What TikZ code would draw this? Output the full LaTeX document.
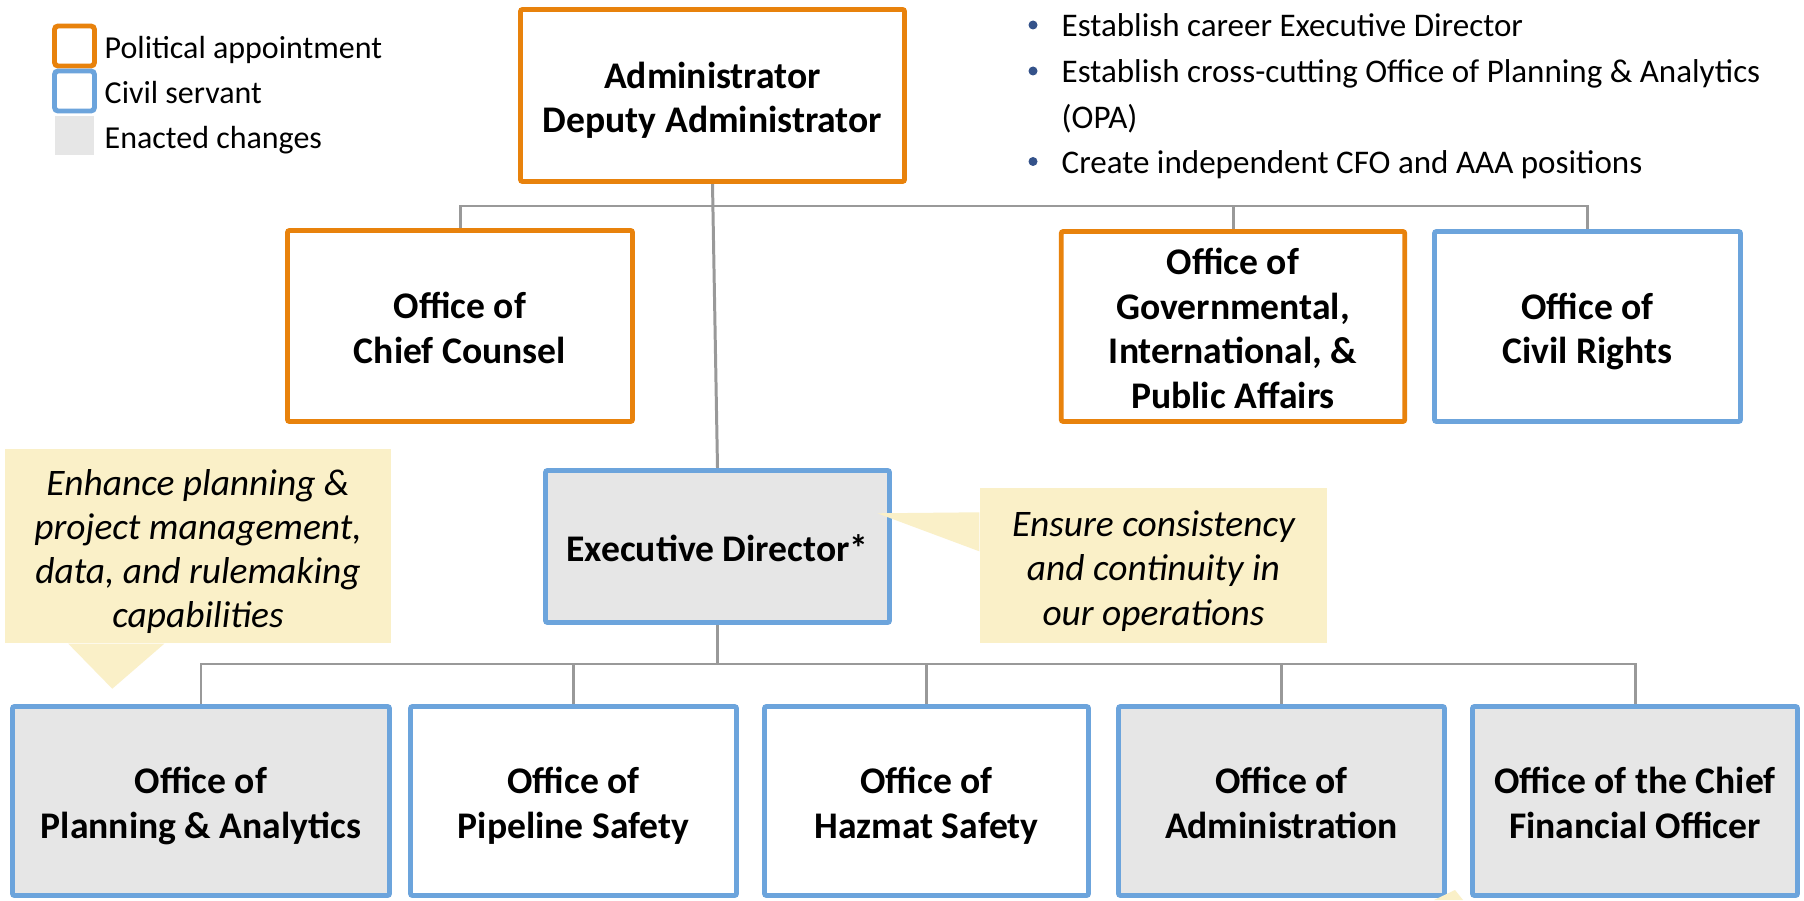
\documentclass[tikz,border=0pt]{standalone}
\usepackage{fontspec}
\setmainfont{Carlito}
\usetikzlibrary{calc,backgrounds}
\definecolor{polorange}{HTML}{E8820C}
\definecolor{civblue}{HTML}{6CA4DC}
\definecolor{enactgray}{HTML}{E6E6E6}
\definecolor{conngray}{HTML}{999999}
\definecolor{noteyellow}{HTML}{FAF0C8}
\definecolor{bulletblue}{HTML}{34528A}

\begin{document}
\begin{tikzpicture}[
  orgbox/.style={line width=1.4pt,rounded corners=0.6pt,align=center,inner sep=0pt,
    font=\fontsize{10.7}{12.7}\selectfont\bfseries},
  polbox/.style={orgbox,draw=polorange,fill=white},
  civbox/.style={orgbox,draw=civblue,fill=white},
  enacted/.style={fill=enactgray},
  tall/.style={text depth=0pt,text height=#1},
  conn/.style={draw=conngray,line width=0.85pt},
  note/.style={fill=noteyellow,align=center,inner sep=0pt,
    font=\fontsize{10.65}{12.6}\selectfont\itshape},
  legtxt/.style={anchor=base west,inner sep=0pt,font=\fontsize{9.1}{11}\selectfont},
  bultxt/.style={anchor=base west,inner sep=0pt,font=\fontsize{9.4}{13}\selectfont}]

\useasboundingbox (0,0) rectangle (18.04,9);
\clip (0,0) rectangle (18.04,9);

% legend
\node[draw=polorange,line width=1.4pt,rounded corners=1pt,minimum size=0.40cm,inner sep=0pt] (legPol) at (0.745,8.54) {};
\node[draw=civblue,line width=1.4pt,rounded corners=1pt,minimum size=0.40cm,inner sep=0pt] (legCiv) at (0.745,8.09) {};
\node[fill=enactgray,minimum size=0.39cm,inner sep=0pt] (legEna) at (0.745,7.645) {};
\node[legtxt] (legPolTxt) at (1.04,8.41) {Political appointment};
\node[legtxt] (legCivTxt) at (1.04,7.96) {Civil servant};
\node[legtxt] (legEnaTxt) at (1.04,7.51) {Enacted changes};

% changes
\node[bultxt] (bulA) at (10.61,8.63) {Establish career Executive Director};
\node[bultxt] (bulB) at (10.61,8.17) {Establish cross-cutting Office of Planning \& Analytics};
\node[bultxt] (bulBb) at (10.61,7.71) {(OPA)};
\node[bultxt] (bulC) at (10.61,7.265) {Create independent CFO and AAA positions};
\foreach \b in {bulA,bulB,bulC}
  \fill[bulletblue] ($(\b.base west)+(-0.28,0.12)$) circle (0.045);

% top level
\node[polbox,tall=21.3pt,minimum width=3.84cm,minimum height=1.72cm] (admin) at (7.125,8.045)
  {Administrator\\Deputy Administrator};
\node[polbox,tall=21.3pt,minimum width=3.45cm,minimum height=1.91cm] (counsel) at (4.60,5.74)
  {Office of\\Chief Counsel};
\node[polbox,tall=46.7pt,minimum width=3.435cm,minimum height=1.90cm] (govt) at (12.33,5.735)
  {Office of\\Governmental,\\International, \&\\Public Affairs};
\node[civbox,tall=21.3pt,minimum width=3.06cm,minimum height=1.90cm] (rights) at (15.875,5.735)
  {Office of\\Civil Rights};
\node[civbox,enacted,tall=8.6pt,minimum width=3.44cm,minimum height=1.52cm] (exec) at (7.175,3.535)
  {Executive Director*};

% offices
\node[civbox,enacted,tall=21.3pt,minimum width=3.77cm,minimum height=1.89cm] (opa) at (2.01,0.99)
  {Office of\\Planning \& Analytics};
\node[civbox,tall=21.3pt,minimum width=3.26cm,minimum height=1.89cm] (pipeline) at (5.735,0.99)
  {Office of\\Pipeline Safety};
\node[civbox,tall=21.3pt,minimum width=3.24cm,minimum height=1.89cm] (hazmat) at (9.265,0.99)
  {Office of\\Hazmat Safety};
\node[civbox,enacted,tall=21.3pt,minimum width=3.26cm,minimum height=1.89cm] (offadm) at (12.815,0.99)
  {Office of\\Administration};
\node[civbox,enacted,tall=21.3pt,minimum width=3.25cm,minimum height=1.89cm] (cfo) at (16.35,0.99)
  {Office of the Chief\\Financial Officer};

\begin{scope}[on background layer]
\fill[white] (0,0) rectangle (18.04,9);
\coordinate (topbus) at (7.125,6.94);
\coordinate (lowbus) at (7.175,2.36);
\draw[conn] (admin.south) -- (exec.north);
\draw[conn] (counsel.north) |- (topbus) -| (rights.north);
\draw[conn] (govt.north) -- (govt.north |- topbus);
\draw[conn] (exec.south) -- (lowbus);
\draw[conn] (opa.north) |- (lowbus) -| (cfo.north);
\foreach \n in {pipeline,hazmat,offadm}
  \draw[conn] (\n.north) -- (\n.north |- lowbus);
\end{scope}

% callouts
\node[note,tall=46.6pt,minimum width=3.86cm,minimum height=1.94cm] (planNote) at (1.98,3.54)
  {Enhance planning \&\\project management,\\data, and rulemaking\\capabilities};
\fill[noteyellow] ($(planNote.south west)+(0.64,0)$) -- ($(planNote.south west)+(1.60,0)$)
  -- ($(planNote.south west)+(1.08,-0.45)$) -- cycle;
\node[note,tall=34pt,minimum width=3.47cm,minimum height=1.55cm] (consNote) at (11.535,3.345)
  {Ensure consistency\\and continuity in\\our operations};
\fill[noteyellow] ($(consNote.north west)+(0,-0.25)$) -- ($(consNote.north west)+(0,-0.64)$)
  -- ($(consNote.north west)+(-1.02,-0.26)$) -- cycle;
\fill[noteyellow] (14.34,0) -- (14.55,0.10) -- (14.63,0) -- cycle;
\end{tikzpicture}
\end{document}
